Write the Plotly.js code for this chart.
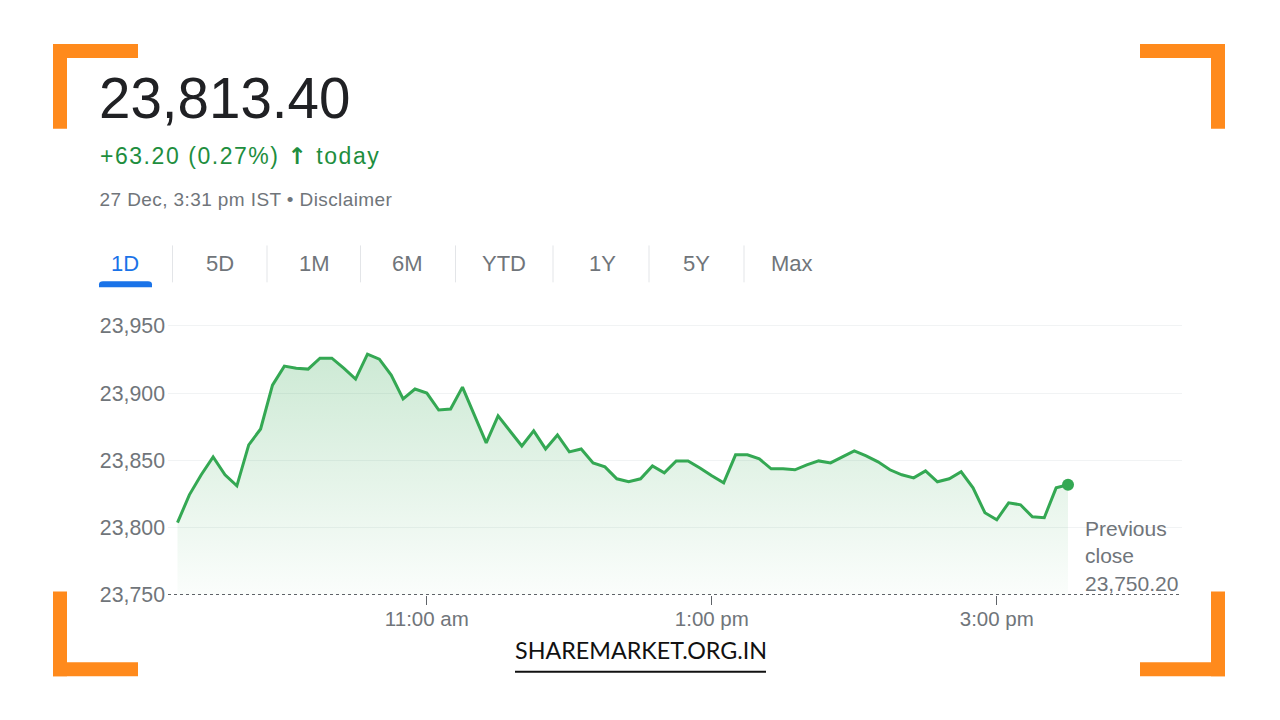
<!DOCTYPE html>
<html>
<head>
<meta charset="utf-8">
<script src="https://cdn.plot.ly/plotly-3.0.1.min.js"></script>
<style>
html,body{margin:0;padding:0;background:#fff;}
#chart{width:1280px;height:720px;}
g.annotation[data-index="1"] text{letter-spacing:1.55px;}
g.annotation[data-index="2"] text{letter-spacing:0.4px;}
</style>
</head>
<body>
<div id="chart"></div>
<script>
// ---- data ----
const times = [
"09:15","09:20","09:25","09:30","09:35","09:40","09:45","09:50","09:55",
"10:00","10:05","10:10","10:15","10:20","10:25","10:30","10:35","10:40","10:45","10:50","10:55",
"11:00","11:05","11:10","11:15","11:20","11:25","11:30","11:35","11:40","11:45","11:50","11:55",
"12:00","12:05","12:10","12:15","12:20","12:25","12:30","12:35","12:40","12:45","12:50","12:55",
"13:00","13:05","13:10","13:15","13:20","13:25","13:30","13:35","13:40","13:45","13:50","13:55",
"14:00","14:05","14:10","14:15","14:20","14:25","14:30","14:35","14:40","14:45","14:50","14:55",
"15:00","15:05","15:10","15:15","15:20","15:25","15:30"];
const prices = [
23803.7,23824.4,23839.3,23852.6,23839.3,23831.1,23861.5,23873.3,23905.9,
23920.0,23918.5,23917.8,23925.9,23925.9,23918.5,23910.4,23928.9,23925.2,23913.3,23895.6,23903.0,
23900.0,23887.4,23888.1,23904.4,23883.7,23863.0,23883.0,23871.9,23860.7,23871.9,23858.5,23868.9,
23856.3,23858.5,23848.1,23845.2,23836.3,23834.1,23836.3,23845.9,23840.7,23849.6,23849.6,23844.4,
23838.5,23833.3,23854.1,23854.1,23851.1,23843.7,23843.7,23843.0,23846.7,23849.6,23848.1,23852.6,
23857.0,23853.3,23848.9,23843.0,23839.3,23837.0,23842.2,23834.1,23836.3,23841.5,23829.6,23811.1,
23805.9,23818.5,23817.0,23808.1,23807.4,23829.6,23831.9];
const tradeDate = "2024-12-27";
const prevClose = 23750.20;
const yTicks = [23750, 23800, 23850, 23900, 23950];
const yTickLabels = ["23,750", "23,800", "23,850", "23,900", "23,950"];
const xTicks = ["11:00", "13:00", "15:00"];
const xTickLabels = ["11:00 am", "1:00 pm", "3:00 pm"];
const tabs = ["1D", "5D", "1M", "6M", "YTD", "1Y", "5Y", "Max"];
const headline = "23,813.40";
const change = "+63.20 (0.27%) <span style=\"font-family:'DejaVu Sans';font-weight:bold\">↑</span> today";
const stamp = "27 Dec, 3:31 pm IST • Disclaimer";
const prevLabel = "Previous<br>close<br>23,750.20";
const brand = "SHAREMARKET.ORG.IN";

// ---- layout geometry ----
const L = 168, R = 1182, T = 318.75, B = 595.5;
const W = R - L, H = B - T;
const PX = p => (p - L) / W;
const PY = p => (B - p) / H;

const xs = times.map(t => tradeDate + " " + t);
const lastIdx = xs.length - 1;

const line = {
  x: xs, y: prices, type: "scatter", mode: "lines",
  line: {color: "#34a853", width: 3, shape: "linear"},
  fill: "tozeroy",
  fillgradient: {type: "vertical", start: yTicks[0], stop: 23930,
    colorscale: [[0, "rgba(52,168,83,0.02)"], [1, "rgba(52,168,83,0.25)"]]},
  hoverinfo: "skip"
};
const dot = {
  x: [xs[lastIdx]], y: [prices[lastIdx]], type: "scatter", mode: "markers",
  marker: {color: "#34a853", size: 12}, hoverinfo: "skip"
};

const grey = "#70757a";
const orange = "#ff8a1c";
const shapes = [];
function rect(x0, y0, x1, y1, color) {
  shapes.push({type: "rect", xref: "paper", yref: "paper",
    x0: PX(x0), x1: PX(x1), y0: PY(y1), y1: PY(y0),
    fillcolor: color, line: {width: 0}, layer: "above"});
}
// corner brackets
rect(53, 43, 67, 128, orange); rect(53, 43, 138, 57, orange);
rect(1211, 43, 1225, 128, orange); rect(1140, 43, 1225, 57, orange);
rect(53, 592, 67, 677, orange); rect(53, 663, 138, 677, orange);
rect(1211, 592, 1225, 677, orange); rect(1140, 663, 1225, 677, orange);

// tab separators
const tabCenters = [125, 220, 314, 407, 504, 602, 696, 792];
for (let i = 0; i < tabCenters.length - 1; i++) {
  const sx = (tabCenters[i] + tabCenters[i + 1]) / 2;
  shapes.push({type: "line", xref: "paper", yref: "paper",
    x0: PX(sx), x1: PX(sx), y0: PY(245), y1: PY(282),
    line: {color: "#e3e5e8", width: 1}});
}
// active tab underline (rounded top)
shapes.push({type: "path", xref: "paper", yref: "paper",
  path: `M ${PX(99)} ${PY(287)} L ${PX(99)} ${PY(284)} Q ${PX(99)} ${PY(281)} ${PX(103)} ${PY(281)} L ${PX(148)} ${PY(281)} Q ${PX(152)} ${PY(281)} ${PX(152)} ${PY(284)} L ${PX(152)} ${PY(287)} Z`,
  fillcolor: "#1a73e8", line: {width: 0}});

// previous close line
shapes.push({type: "line", xref: "paper", yref: "y",
  x0: 0, x1: 1, y0: prevClose, y1: prevClose,
  line: {color: "#5f6368", width: 1.5, dash: "dot"}, layer: "above"});
// brand underline
shapes.push({type: "line", xref: "paper", yref: "paper",
  x0: PX(515), x1: PX(766), y0: PY(672.5), y1: PY(672.5),
  line: {color: "#111", width: 2}});

const annotations = [
  {text: headline, x: PX(97), y: PY(97.5), xanchor: "left", yanchor: "middle",
   font: {family: "Liberation Sans, Arial", size: 56.5, color: "#202124"}},
  {text: change, x: PX(115), y: PY(155), xanchor: "left", yanchor: "middle",
   font: {family: "Liberation Sans, Arial", size: 23, color: "#1e8e3e"}},
  {text: stamp, x: PX(104), y: PY(199), xanchor: "left", yanchor: "middle",
   font: {family: "Liberation Sans, Arial", size: 19, color: grey}},
  {text: prevLabel, x: PX(1083), y: PY(556), xanchor: "left", yanchor: "middle", align: "left",
   font: {family: "Liberation Sans, Arial", size: 21, color: grey}},
  {text: brand, x: PX(640.5), y: PY(651), xanchor: "center", yanchor: "middle",
   font: {family: "Lato, Open Sans", size: 23.3, color: "#111"}}
];
tabs.forEach((t, i) => {
  annotations.push({text: t, x: PX(tabCenters[i]), y: PY(263), xanchor: "center", yanchor: "middle",
    font: {family: "Liberation Sans, Arial", size: 22, color: i === 0 ? "#1a73e8" : grey}});
});
annotations.forEach(a => { a.xref = "paper"; a.yref = "paper"; a.showarrow = false; });

const layout = {
  width: 1280, height: 720,
  margin: {l: L, r: 1280 - R, t: T, b: 720 - B, pad: 0},
  paper_bgcolor: "#fff", plot_bgcolor: "#fff",
  showlegend: false,
  xaxis: {
    type: "date",
    range: [tradeDate + " 09:11", tradeDate + " 16:18"],
    tickvals: xTicks.map(t => tradeDate + " " + t),
    ticktext: xTickLabels,
    ticks: "outside", ticklen: 9, tickcolor: "#5f6368", tickwidth: 1,
    ticklabelstandoff: -4,
    showgrid: false, zeroline: false, showline: false,
    tickfont: {family: "Liberation Sans, Arial", size: 20.5, color: grey},
    fixedrange: true
  },
  yaxis: {
    range: [yTicks[0], 23955],
    tickvals: yTicks, ticktext: yTickLabels,
    showgrid: true, gridcolor: "#f1f3f4", gridwidth: 1,
    zeroline: false, showline: false, ticks: "",
    ticklabelstandoff: 2,
    tickfont: {family: "Liberation Sans, Arial", size: 21.3, color: grey},
    fixedrange: true
  },
  shapes: shapes,
  annotations: annotations
};

Plotly.newPlot("chart", [line, dot], layout, {staticPlot: true, displayModeBar: false});
</script>
</body>
</html>
